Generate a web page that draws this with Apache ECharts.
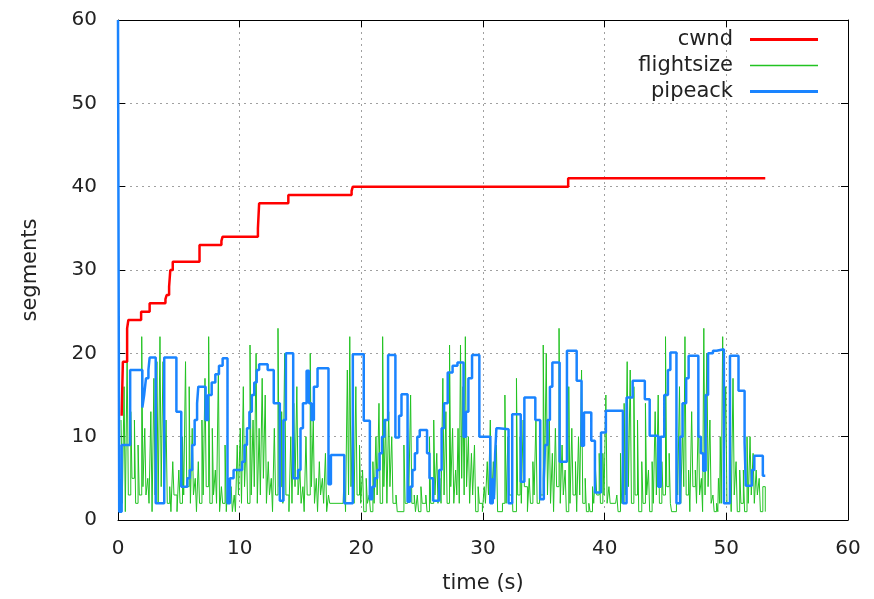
<!DOCTYPE html>
<html>
<head>
<meta charset="utf-8">
<script src="https://cdn.jsdelivr.net/npm/echarts@6/dist/echarts.min.js"></script>
<style>html,body{margin:0;padding:0;background:#fff;}#c{width:874px;height:599px;}</style>
</head>
<body>
<div id="c"></div>
<script>
var xTicks = [0, 10, 20, 30, 40, 50, 60];
var yTicks = [0, 10, 20, 30, 40, 50, 60];
var seriesNames = ['cwnd', 'flightsize', 'pipeack'];

var cwnd = [[0.3,12.5],[0.4,19],[0.75,23],[0.85,24],[1.9,25],[2.6,26],[3.9,26.5],[4.0,27],[4.2,28],[4.3,30],[4.5,31],[6.7,33],[8.5,33.5],[8.6,34],[11.5,35],[11.6,38],[14.0,39],[19.2,39.5],[19.3,40],[37.0,41],[53.2,41]];

var flightsize = [
[0.25,12],[0.35,2],[0.5,16],[0.6,1],[0.75,20],[0.85,3],[1.05,13],[1.15,5],[1.35,12],[1.45,2],[1.65,9],[1.75,3],[1.95,22],[2.05,4],[2.2,11],[2.3,3],[2.45,5],[2.55,2],[2.7,13],[2.8,1],[2.95,17],[3.05,3],[3.2,19],[3.3,2],[3.45,22],[3.55,4],[3.7,19],[3.8,3],[3.95,12],[4.05,2],[4.25,4],[4.35,1],[4.5,7],[4.6,3],[4.75,3],[4.85,1],[5.0,6],[5.1,2],[5.3,10],[5.4,3],[5.55,19],[5.65,4],[5.85,16],[5.95,2],[6.1,11],[6.2,3],[6.35,5],[6.45,1],[6.6,7],[6.7,2],[6.9,12],[7.0,3],[7.15,17],[7.25,4],[7.45,22],[7.55,2],[7.75,11],[7.85,3],[8.0,6],[8.1,2],[8.25,18],[8.35,1],[8.5,4],[8.6,2],[8.8,9],[8.9,1],
[9.05,5],[9.15,2],[9.3,4],[9.4,1],[9.55,3],[9.65,1],[9.8,9],[9.9,3],[10.05,11],[10.15,2],[10.3,16],[10.4,4],[10.55,10],[10.65,2],[10.85,21],[10.95,3],[11.1,12],[11.2,4],[11.35,20],[11.45,2],[11.6,11],[11.7,3],[11.85,17],[11.95,5],[12.1,15],[12.2,2],[12.35,7],[12.45,3],[12.6,5],[12.7,1],[12.85,11],[12.95,3],[13.15,23],[13.25,4],[13.45,13],[13.55,2],[13.7,20],[13.8,3],[13.95,3],[14.05,1],[14.2,10],[14.3,2],[14.45,14],[14.55,4],[14.7,16],[14.8,3],[14.95,6],[15.05,2],[15.2,4],[15.3,1],[15.45,10],[15.55,3],[15.8,20],[15.9,4],[16.05,12],[16.15,2],[16.3,5],[16.4,1],[16.55,7],[16.65,3],[16.8,5],[16.9,2],[17.05,8],[17.15,1],
[17.3,3],[17.4,2],[18.5,2],[18.6,6],[18.7,1],[18.85,18],[18.95,3],[19.05,22],[19.15,4],[19.3,13],[19.4,2],[19.55,16],[19.65,3],[19.85,9],[19.95,2],[20.1,6],[20.2,1],[20.4,5],[20.5,2],[20.65,3],[20.75,1],[20.95,7],[21.05,2],[21.2,10],[21.3,3],[21.45,14],[21.55,2],[21.75,22],[21.85,4],[22.0,12],[22.1,2],[22.25,13],[22.35,4],[22.5,10],[22.6,2],[22.85,3],[22.95,1],[23.5,9],[23.6,2],[23.8,11],[23.9,3],[24.05,15],[24.15,2],[24.35,3],[24.45,1],[24.6,3],[24.7,1],[24.9,4],[25.0,2],[25.3,3],[25.4,1],[25.6,10],[25.7,2],[25.95,12],[26.05,3],[26.2,8],[26.3,2],
[26.45,5],[26.55,2],[26.7,17],[26.8,3],[26.95,13],[27.05,2],[27.25,21],[27.35,4],[27.5,11],[27.6,2],[27.75,6],[27.85,3],[27.95,11],[28.05,2],[28.15,21],[28.25,5],[28.35,16],[28.45,3],[28.55,22],[28.65,4],[28.8,10],[28.9,2],[29.05,8],[29.15,3],[29.3,9],[29.4,1],[29.6,4],[29.7,2],[29.85,2],[29.95,1],[30.1,4],[30.2,2],[30.35,7],[30.45,3],[30.6,12],[30.7,2],[30.85,7],[30.95,3],[31.1,9],[31.2,1],[31.6,2],[31.8,15],[31.9,2],[32.05,10],[32.15,3],[32.35,7],[32.45,1],[32.75,17],[32.85,3],[33.05,10],[33.15,2],[33.3,12],[33.4,4],[33.55,4],[33.65,1],[33.8,5],[33.9,2],[34.1,7],[34.2,3],[34.35,12],[34.45,2],[34.65,7],[34.75,3],[34.95,21],[35.05,4],
[35.2,20],[35.3,3],[35.45,12],[35.55,2],[35.7,8],[35.8,1],[35.95,11],[36.05,4],[36.25,23],[36.35,2],[36.5,9],[36.6,3],[36.75,6],[36.85,1],[37.05,16],[37.15,2],[37.3,11],[37.4,3],[37.6,7],[37.7,1],[37.85,10],[37.95,3],[38.1,18],[38.2,2],[38.4,5],[38.5,1],[38.7,2],[38.8,1],[39.0,4],[39.1,2],[39.25,6],[39.35,3],[39.55,8],[39.65,2],[39.85,8],[39.95,3],[40.1,15],[40.2,2],[40.35,4],[40.45,2],[40.9,2],[41.0,3],[41.1,1],[41.3,8],[41.4,2],[41.6,14],[41.7,3],[41.85,19],[41.95,4],[42.1,18],[42.2,2],[42.4,16],[42.5,3],[42.7,12],[42.8,1],[43.05,7],[43.15,2],[43.35,14],[43.45,3],[43.6,6],[43.7,1],[43.9,7],[44.0,2],
[44.15,13],[44.25,3],[44.4,15],[44.5,2],[44.7,7],[44.8,3],[45.0,22],[45.1,4],[45.3,8],[45.4,2],[45.5,1],[45.9,11],[46.0,3],[46.15,16],[46.25,2],[46.4,11],[46.5,4],[46.6,22],[46.7,3],[46.9,6],[47.0,1],[47.15,13],[47.25,4],[47.45,6],[47.55,2],[47.7,13],[47.8,3],[47.95,5],[48.05,1],[48.15,23],[48.25,3],[48.4,20],[48.5,4],[48.65,12],[48.75,2],[48.9,3],[49.0,1],[49.2,2],[49.3,1],[49.35,5],[49.45,2],[49.5,10],[49.58,2],[49.7,22],[49.8,4],[49.95,16],[50.05,2],[50.3,6],[50.4,1],[50.55,17],[50.65,3],[50.8,7],[50.9,1],[51.1,6],[51.2,2],[51.4,6],[51.5,1],[51.7,10],[51.8,2],[51.95,10],[52.05,3],[52.2,8],[52.3,2],[52.45,6],[52.55,3],[52.7,5],[52.8,1],[53.0,4],[53.2,1]
];

var pipeack = [[0,60],[0.1,1],[0.3,9],[1.0,18],[2.0,13.5],[2.15,15],[2.3,17],[2.5,18],[2.6,19.5],[3.1,2],[3.8,19.5],[4.8,13],[5.2,4],[5.7,5],[5.9,6],[6.1,9],[6.3,12],[6.5,14],[6.6,16],[7.2,12],[7.4,15],[7.7,16.5],[8.0,17.5],[8.3,18.5],[8.6,19.4],[9.0,2],[9.2,5],[9.5,6],[10.2,7],[10.4,9],[10.6,11],[10.8,13],[11.0,15],[11.2,16.5],[11.4,18],[11.6,18.7],[12.3,18],[12.8,14],[13.3,2.3],[13.6,12],[13.8,20],[14.4,5],[14.8,6],[15.0,11],[15.2,14],[15.5,17.9],[15.7,14],[15.9,12],[16.1,16],[16.4,18.2],[17.3,4.3],[17.5,7.8],[18.6,2],[19.3,19.9],[20.2,11.9],[20.7,2.5],[20.9,4],[21.1,5],[21.3,6],[21.5,8],[21.7,10],[21.9,12],[22.2,19.8],[22.8,9.9],[23.1,12.5],[23.3,15.1],[23.8,2.2],[24.0,4],[24.2,6],[24.4,8],[24.6,10],[24.8,10.8],[25.4,8],[25.6,5],[25.9,2.3],[26.4,6],[26.6,11],[26.8,14],[27.1,17.7],[27.5,18.5],[27.9,18.9],[28.4,10],[28.6,13],[28.8,17],[29.1,19.8],[29.7,10],[30.6,2],[30.8,5],[30.9,2.5],[31.0,8],[31.1,11],[31.3,10.9],[32.1,2],[32.4,12.7],[33.1,4.6],[33.4,14.7],[34.3,12],[34.7,2.5],[35.0,5],[35.1,9],[35.3,12],[35.5,16],[35.7,18.9],[36.3,7],[36.9,20.3],[37.7,16.7],[38.1,8.9],[38.3,12.9],[38.9,9.5],[39.2,3.3],[39.7,10.5],[40.1,13.1],[41.5,2],[41.8,14.7],[42.3,16.7],[43.3,14.5],[43.7,10.1],[44.4,4],[44.6,10],[44.9,15],[45.2,18],[45.4,20.1],[45.9,2],[46.2,10],[46.4,14],[46.7,17],[46.9,19.7],[47.7,10],[47.9,8],[48.1,5.9],[48.3,15],[48.5,20],[48.9,20.3],[49.2,20.5],[49.8,2],[50.3,19.7],[51.0,15.5],[51.5,9.3],[51.6,4.1],[52.1,6],[52.3,7.7],[53.0,5.3],[53.2,5.3]];

var FONT = 'DejaVu Sans';
var chart = echarts.init(document.getElementById('c'), null, {renderer: 'canvas'});
function baseAxis(pos, show) {
  return {
    type: 'value', min: 0, max: 60, interval: 10, position: pos,
    axisLine: {show: true, onZero: false, lineStyle: {color: '#000', width: 1}},
    axisTick: {show: true, inside: true, length: 7, lineStyle: {color: '#000'}},
    axisLabel: {show: show, color: '#222', fontFamily: FONT, fontSize: 20},
    splitLine: {show: false}
  };
}
var xMain = baseAxis('bottom', true);
xMain.name = 'time (s)'; xMain.nameLocation = 'middle'; xMain.nameGap = 53;
xMain.nameTextStyle = {color: '#222', fontFamily: FONT, fontSize: 21};
xMain.axisLabel.margin = 19;
xMain.splitLine = {show: true, lineStyle: {color: '#a0a0a0', type: [2, 4], width: 1}};
xMain.axisLabel.formatter = function (v) { return xTicks.indexOf(v) >= 0 ? String(v) : ''; };
var xTop = baseAxis('top', false);
var yMain = baseAxis('left', true);
yMain.name = 'segments'; yMain.nameLocation = 'middle'; yMain.nameGap = 77; yMain.nameRotate = 90;
yMain.nameTextStyle = {color: '#222', fontFamily: FONT, fontSize: 21};
yMain.axisLabel.margin = 21;
yMain.splitLine = {show: true, lineStyle: {color: '#a0a0a0', type: [2, 4], width: 1}};
yMain.axisLabel.formatter = function (v) { return yTicks.indexOf(v) >= 0 ? String(v) : ''; };
var yRight = baseAxis('right', false);

var thickIcon = 'path://M0,0H68V3H0Z';
var thinIcon = 'path://M0,0H68V1.6H0Z';

chart.setOption({
  animation: false,
  backgroundColor: '#fff',
  grid: {left: 118, right: 26, top: 20, bottom: 78, containLabel: false},
  legend: {
    orient: 'vertical', right: 56, top: 29, align: 'right', padding: 0,
    itemWidth: 68, itemHeight: 14, itemGap: 5,
    textStyle: {color: '#222', fontFamily: FONT, fontSize: 21, padding: [0, 12, 0, 0]},
    data: [
      {name: seriesNames[0], icon: thickIcon},
      {name: seriesNames[1], icon: thinIcon},
      {name: seriesNames[2], icon: thickIcon}
    ]
  },
  xAxis: [xMain, xTop],
  yAxis: [yMain, yRight],
  series: [
    {name: seriesNames[0], type: 'line', step: 'end', data: cwnd, symbol: 'none', z: 4,
     lineStyle: {color: '#ff0000', width: 2.5}, itemStyle: {color: '#ff0000'}},
    {name: seriesNames[1], type: 'line', step: 'end', data: flightsize, symbol: 'none', z: 2,
     lineStyle: {color: '#22c322', width: 1}, itemStyle: {color: '#22c322'}},
    {name: seriesNames[2], type: 'line', step: 'end', data: pipeack, symbol: 'none', z: 3,
     lineStyle: {color: '#1a84ff', width: 2.5}, itemStyle: {color: '#1a84ff'}}
  ]
});
</script>
</body>
</html>
